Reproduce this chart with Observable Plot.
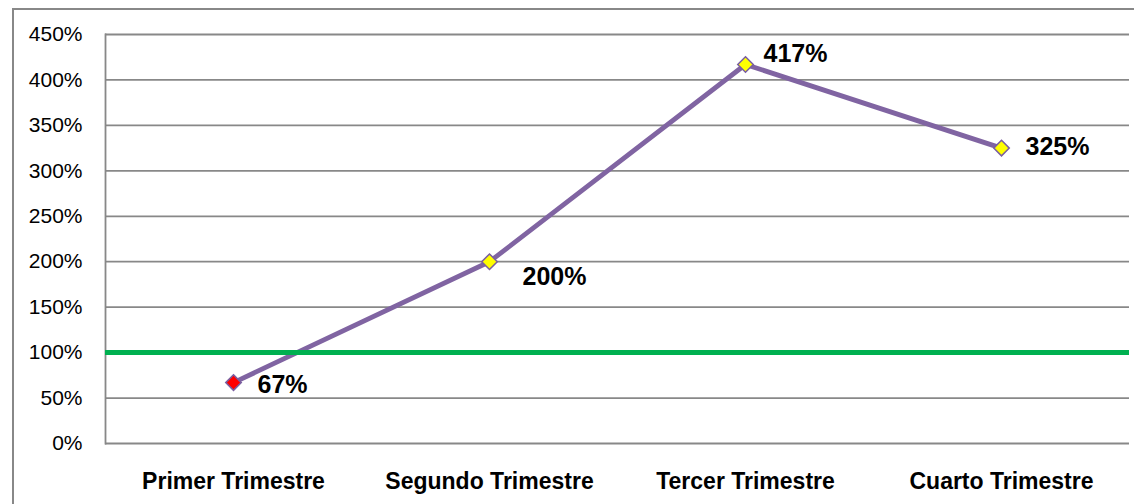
<!DOCTYPE html>
<html><head><meta charset="utf-8">
<script src="https://cdn.jsdelivr.net/npm/d3@7"></script>
<script src="https://cdn.jsdelivr.net/npm/@observablehq/plot@0.6"></script>
<style>
body{margin:0;overflow:hidden;background:#fff;width:1134px;height:504px;position:relative}
#frame{position:absolute;left:12px;top:8px;width:1200px;height:600px;border:2px solid #888;box-sizing:border-box}
#chart{position:absolute;left:0;top:0}
</style></head><body><div id="frame"></div><div id="chart"></div>
<script>
const categories = ["Primer Trimestre", "Segundo Trimestre", "Tercer Trimestre", "Cuarto Trimestre"];
const values = [67, 200, 417, 325];
const valueLabels = ["67%", "200%", "417%", "325%"];
const markerFills = ["#FF0000", "#FFFF00", "#FFFF00", "#FFFF00"];
const target = 100;
const yTicks = [0, 50, 100, 150, 200, 250, 300, 350, 400, 450];

const data = categories.map((c, i) => ({cat: c, v: values[i], label: valueLabels[i], fill: markerFills[i]}));

// label nudges (pixels) per point, as placed in the original
const nudges = [[24, 2], [33, 15], [18, -10], [24, -1]];

const font = "Liberation Sans, Arial, sans-serif";
const chart = Plot.plot({
  width: 1134,
  height: 504,
  marginLeft: 105,
  marginRight: 5,
  marginTop: 34,
  marginBottom: 61,
  style: {fontFamily: font, background: "transparent", overflow: "visible"},
  x: {type: "point", domain: categories, padding: 0.5, label: null},
  y: {domain: [0, 450], label: null},
  marks: [
    Plot.gridY(yTicks, {stroke: "#888888", strokeOpacity: 1, strokeWidth: 1.8}),
    Plot.frame({anchor: "left", stroke: "#888888", strokeWidth: 1.8}),
    Plot.axisY(yTicks, {tickSize: 0, tickPadding: 23, fontSize: 21, fill: "#000", tickFormat: d => d + "%"}),
    Plot.axisX({tickSize: 0, tickPadding: 29, fontSize: 23, fontWeight: "bold", fill: "#000"}),
    Plot.line(data, {x: "cat", y: "v", stroke: "#8064A2", strokeWidth: 4.8}),
    Plot.ruleY([target], {stroke: "#00B050", strokeWidth: 5}),
    Plot.dot(data, {x: "cat", y: "v", symbol: "diamond2", r: 7, fill: d => d.fill, stroke: "#7a5fa0", strokeWidth: 1.5}),
    ...data.map((d, i) => Plot.text([d], {x: "cat", y: "v", text: "label", textAnchor: "start", dx: nudges[i][0], dy: nudges[i][1], fontSize: 25, fontWeight: "bold", fill: "#000"}))
  ]
});
document.getElementById("chart").appendChild(chart);
</script>
</body></html>
